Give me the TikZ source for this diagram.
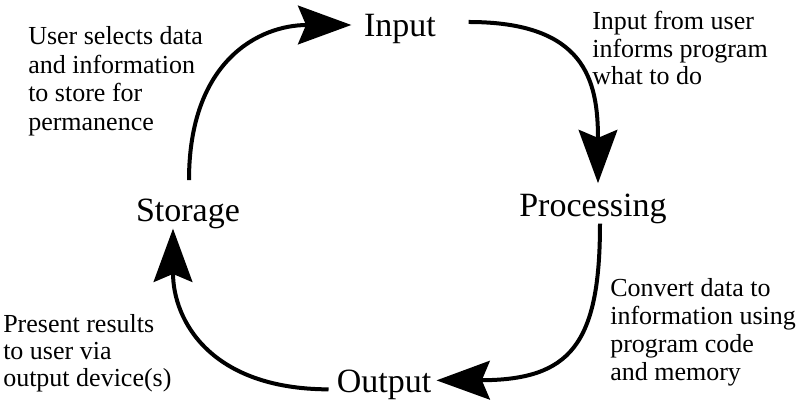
\documentclass[tikz,border=0pt]{standalone}
\usepackage{fontspec}
\setmainfont{Liberation Serif}
\usetikzlibrary{arrows.meta,calc}
\tikzset{
  biglabel/.style={inner sep=0pt, anchor=base, font=\fontsize{25.5pt}{30pt}\selectfont},
  note/.style={inner sep=0pt, anchor=base west, font=\fontsize{19.5pt}{21pt}\selectfont},
  cyclearrow/.style={line width=3pt, -{Stealth[length=40pt,width=29pt,inset=6pt]}}
}
\begin{document}
\begin{tikzpicture}[x=0.75pt,y=-0.75pt]
\useasboundingbox (0,0) rectangle (800,403);
\node[biglabel] (input) at (400,37) {Input};
\node[biglabel] (processing) at (593,216) {Processing};
\node[biglabel] (storage) at (188,221) {Storage};
\node[biglabel] (output) at (384,392) {Output};

\node[note] (n1) at (28,45) {\vtop{\baselineskip=21.3pt\hbox{User selects data}\hbox{and information}\hbox{to store for}\hbox{permanence}}};
\node[note] (n2) at (592,30) {\vtop{\baselineskip=20.6pt\hbox{Input from user}\hbox{informs program}\hbox{what to do}}};
\node[note] (n3) at (610,296) {\vtop{\baselineskip=21pt\hbox{Convert data to}\hbox{information using}\hbox{program code}\hbox{and memory}}};
\node[note] (n4) at (3,332) {\vtop{\baselineskip=20.6pt\hbox{Present results}\hbox{to user via}\hbox{output device(s)}}};

\draw[cyclearrow] ($(storage.north)+(1,-18)$) .. controls (189,60) and (260,25) .. ($(input.west)+(-12.5,-4.5)$);
\draw[cyclearrow] ($(input.east)+(32.5,-7.5)$) .. controls (585,22) and (598,80) .. ($(processing.north)+(5,-10)$);
\draw[cyclearrow] ($(processing.south)+(7,0)$) .. controls (600,345) and (570,380) .. ($(output.east)+(5,-4)$);
\draw[cyclearrow] ($(output.west)+(-8,5)$) .. controls (210,389) and (173,320) .. ($(storage.south)+(-15,0)$);
\end{tikzpicture}
\end{document}
